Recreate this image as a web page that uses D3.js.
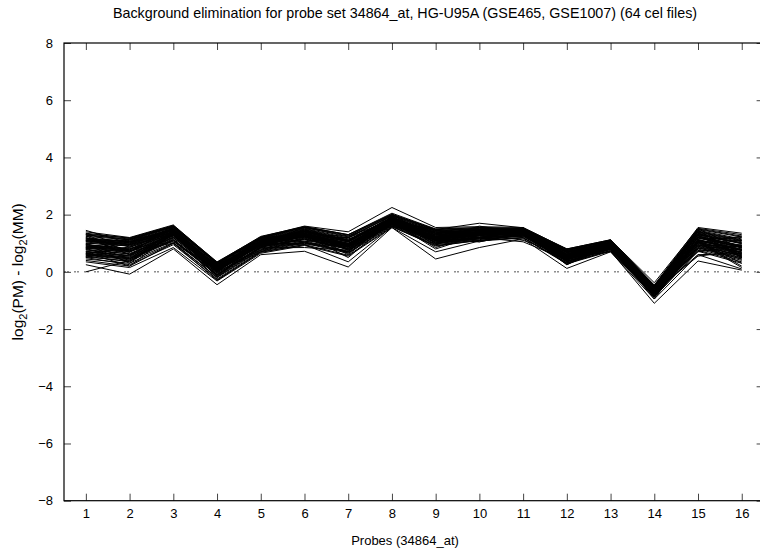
<!DOCTYPE html>
<html>
<head>
<meta charset="utf-8">
<script src="https://cdn.jsdelivr.net/npm/d3@7"></script>
<style>
  body { margin: 0; background: #fff; }
  svg text { font-family: "Liberation Sans", Arial, Helvetica, sans-serif; font-size: 13px; fill: #000; }
</style>
</head>
<body>
<script>
// probe indices and axis ticks
var probes = [1, 2, 3, 4, 5, 6, 7, 8, 9, 10, 11, 12, 13, 14, 15, 16];
var yTicks = [-8, -6, -4, -2, 0, 2, 4, 6, 8];
var chartTitle = "Background elimination for probe set 34864_at, HG-U95A (GSE465, GSE1007) (64 cel files)";
var xTitle = "Probes (34864_at)";

// log2(PM) - log2(MM) for each cel file, one row per file
var celFiles = [
  [0.95,0.80,1.35,0.10,0.75,1.30,0.95,1.78,1.45,1.32,1.38,0.55,1.10,-0.68,1.10,0.75],
  [1.10,0.95,1.45,0.20,1.05,1.40,1.05,1.85,1.30,1.40,1.42,0.62,0.98,-0.90,1.25,0.90],
  [0.70,0.55,1.20,-0.05,0.88,1.15,0.80,1.70,1.35,1.10,1.30,0.45,0.85,-0.75,0.95,0.55],
  [1.25,0.70,1.55,0.28,1.15,1.05,1.20,1.95,1.40,1.20,1.48,0.72,1.05,-0.52,1.40,1.10],
  [0.55,0.35,1.45,-0.15,0.80,1.05,0.70,1.95,1.00,1.18,1.45,0.38,0.80,-0.82,0.85,0.45],
  [1.45,1.00,1.50,0.15,1.00,1.35,1.00,1.80,1.25,1.35,1.40,0.58,0.95,-0.65,1.20,0.85],
  [0.00,0.40,1.30,0.05,0.95,1.28,0.90,1.75,1.15,1.30,1.35,0.50,0.90,-0.70,1.05,0.70],
  [0.25,-0.08,0.80,-0.45,0.60,0.72,0.17,1.55,0.45,0.85,1.15,0.12,0.70,-0.95,0.60,0.10],
  [0.65,0.85,1.40,0.12,1.00,1.32,0.98,1.80,1.22,1.35,1.38,0.35,0.93,-0.66,1.15,1.20],
  [0.85,0.70,1.28,0.25,0.92,1.22,1.20,1.72,1.12,1.28,1.33,0.48,0.88,-0.72,1.45,0.62],
  [0.55,1.15,1.58,0.30,1.18,1.55,1.25,2.00,1.45,1.52,1.50,0.75,1.08,-0.50,1.45,1.15],
  [0.60,0.45,1.10,-0.10,0.85,1.40,0.75,1.65,1.05,1.20,1.28,0.42,0.82,-0.78,0.90,0.50],
  [1.00,0.45,1.42,0.15,1.02,1.35,1.00,1.82,0.95,1.38,1.40,0.60,0.95,-0.85,1.20,0.85],
  [0.90,0.75,1.32,0.08,0.96,1.55,0.92,1.76,1.18,1.05,1.36,0.52,0.90,-0.70,1.08,0.30],
  [1.15,1.05,1.50,-0.15,1.10,1.45,1.10,1.90,1.35,1.45,1.45,0.68,1.02,-0.56,1.30,1.00],
  [1.20,0.60,1.25,-0.02,1.15,1.20,0.85,1.70,1.10,1.25,1.32,0.70,0.86,-0.74,0.98,0.60],
  [0.50,0.25,0.95,-0.25,0.72,1.00,0.65,1.60,0.95,1.12,1.50,0.35,0.78,-0.85,0.80,0.40],
  [1.30,1.12,1.60,0.32,1.20,1.58,1.30,2.05,1.50,1.55,1.52,0.78,1.10,-0.48,1.50,1.25],
  [0.95,0.82,1.05,0.10,0.98,1.30,0.96,1.60,1.20,1.34,1.38,0.55,0.92,-0.68,0.75,0.78],
  [0.80,1.05,1.30,0.00,0.93,1.24,0.90,1.74,1.15,1.28,1.55,0.50,0.70,-0.72,1.02,0.65],
  [1.10,1.00,1.48,-0.20,1.06,1.42,1.08,1.88,1.00,1.42,1.44,0.64,1.00,-0.58,1.28,0.50],
  [0.65,0.50,1.15,-0.08,0.86,1.12,0.78,1.68,1.08,1.22,1.30,0.44,0.84,-0.76,1.35,0.52],
  [1.20,0.60,1.35,0.10,0.95,1.30,0.95,1.78,1.20,1.33,1.37,0.54,0.91,-0.68,1.10,0.76],
  [0.45,0.30,1.00,-0.20,0.75,1.02,0.68,1.62,0.98,1.15,1.24,0.36,0.79,-0.84,0.82,0.90],
  [1.35,1.18,1.62,0.35,1.22,1.60,1.40,2.25,1.55,1.58,1.55,0.80,1.12,-0.38,1.52,1.30],
  [0.88,0.72,1.30,0.05,0.94,0.95,0.90,1.75,1.15,1.55,1.35,0.52,0.90,-0.50,1.05,0.68],
  [0.55,0.88,1.40,0.12,1.00,1.33,0.65,1.80,1.22,1.36,1.39,0.57,0.93,-0.66,1.50,0.82],
  [0.78,0.62,1.26,0.00,1.20,1.22,0.86,1.72,1.12,1.27,1.33,0.48,0.87,-0.73,1.00,0.62],
  [1.18,1.08,1.52,0.24,1.12,1.48,1.12,1.92,1.38,1.46,1.46,0.70,1.04,-0.55,1.35,1.05],
  [0.58,0.42,1.08,-0.12,0.83,1.08,0.72,1.64,1.02,1.18,1.26,0.40,1.05,-0.80,0.88,0.48],
  [0.98,0.30,1.38,0.10,1.20,1.31,0.96,1.79,1.21,1.34,1.38,0.80,0.92,-0.67,1.12,0.78],
  [0.82,0.68,1.55,0.03,0.93,1.24,0.89,1.74,1.45,1.29,1.34,0.50,0.89,-0.71,1.03,1.10],
  [1.08,0.98,1.46,0.18,1.05,1.40,1.06,1.86,1.30,1.42,1.43,0.25,0.99,-0.59,1.25,0.92],
  [0.68,0.20,1.00,-0.30,0.70,0.95,0.35,1.58,0.90,1.10,1.20,0.32,0.75,-0.88,0.75,0.35],
  [0.85,1.10,1.55,0.26,1.14,1.50,1.15,1.65,1.40,1.48,1.47,0.72,0.80,-0.53,1.38,1.08],
  [0.92,0.78,1.34,0.08,0.97,1.28,0.93,1.77,0.85,1.32,1.37,0.54,0.91,-0.69,1.09,0.74],
  [0.72,0.58,1.22,0.28,0.89,1.18,0.82,1.70,1.10,1.50,1.31,0.46,0.86,-0.74,1.30,0.58],
  [1.12,1.02,1.48,0.20,1.08,1.43,1.08,1.88,1.33,1.44,1.44,0.66,1.01,-0.57,1.30,0.98],
  [0.62,0.48,1.12,-0.10,0.84,1.50,0.76,1.66,1.05,1.20,1.05,0.42,0.83,-0.78,0.90,0.95],
  [1.28,1.15,1.58,0.30,1.18,1.55,1.22,1.98,1.45,1.50,1.50,0.75,1.08,-0.50,1.45,0.55],
  [0.96,1.15,1.36,0.10,0.98,1.30,1.25,1.78,1.20,1.33,1.38,0.55,0.92,-0.95,1.11,0.77],
  [1.30,0.70,1.30,0.04,0.94,1.25,0.90,1.74,0.80,1.29,1.35,0.25,0.89,-0.71,1.04,0.67],
  [1.06,0.95,1.44,0.16,1.04,1.38,1.04,1.84,1.28,1.40,1.42,0.62,0.98,-0.60,1.22,0.90],
  [0.52,0.38,1.02,-0.18,0.78,1.04,0.70,1.90,1.00,1.16,1.25,0.38,0.80,-0.83,0.84,0.44],
  [1.40,1.20,1.64,0.33,1.24,1.58,1.30,2.02,1.48,1.70,1.54,0.80,1.12,-0.46,1.55,1.35],
  [0.86,0.74,1.00,0.06,0.95,1.26,0.91,2.00,1.16,1.31,1.36,0.52,0.90,-0.70,1.06,0.20],
  [1.00,0.90,1.40,0.14,1.01,1.34,0.99,1.81,1.24,1.37,1.40,0.30,0.94,-0.64,1.18,0.84],
  [0.76,0.64,1.28,0.01,0.70,1.22,0.87,1.72,1.13,1.05,1.33,0.49,0.88,-0.72,0.60,0.64],
  [1.16,1.06,1.50,0.22,1.10,1.46,1.10,1.90,1.36,1.46,1.46,0.69,1.03,-0.56,1.33,1.02],
  [0.40,0.20,1.35,-0.28,0.68,0.95,0.58,1.58,0.92,1.10,1.20,0.30,0.74,-0.88,0.72,0.30],
  [0.50,0.80,1.36,0.10,0.98,1.00,0.94,1.78,1.20,1.33,1.37,0.55,1.12,-0.68,1.10,0.76],
  [0.80,0.95,1.28,0.02,0.92,1.23,0.88,1.73,1.50,1.28,1.34,0.50,0.88,-0.72,1.02,1.25],
  [1.04,0.92,1.42,0.15,1.03,1.36,0.60,1.83,1.26,1.38,1.41,0.60,0.96,-0.62,1.20,0.88],
  [0.64,0.52,1.18,0.20,0.87,1.14,0.80,1.95,1.08,1.22,1.30,0.72,0.84,-0.76,0.93,0.54],
  [1.24,1.12,1.56,0.28,1.16,1.52,1.18,1.96,1.42,1.49,1.48,0.74,1.07,-0.52,1.42,1.12],
  [0.90,0.76,1.60,0.08,0.96,1.28,0.50,1.77,1.17,1.32,1.36,0.53,0.91,-0.69,0.55,0.73],
  [0.70,0.56,1.20,-0.04,0.88,1.16,0.82,1.69,1.09,1.55,1.31,0.45,0.85,-0.75,0.95,0.56],
  [1.14,1.04,1.49,0.21,1.09,1.44,1.09,1.89,1.34,1.45,1.45,0.67,1.02,-0.57,1.31,1.00],
  [0.35,0.15,0.85,-0.32,0.65,0.92,0.55,1.55,0.70,1.08,1.18,0.28,0.72,-1.10,0.38,0.06],
  [1.35,0.86,1.38,0.12,0.99,1.32,0.97,1.79,1.22,1.35,1.10,0.57,0.93,-0.88,1.13,0.80],
  [0.82,0.35,1.30,0.04,0.93,1.25,0.89,1.74,1.15,1.60,1.35,0.51,0.89,-0.71,1.04,0.15],
  [1.08,0.96,1.45,0.17,1.05,1.39,1.05,1.85,1.29,1.41,1.43,0.62,0.98,-0.60,0.70,0.91],
  [0.60,0.46,1.12,-0.10,0.84,0.85,0.76,1.66,1.40,1.20,1.28,0.42,0.83,-0.78,1.40,0.50],
  [1.32,1.18,1.60,0.32,1.20,1.56,1.28,2.00,1.48,1.54,1.52,0.78,1.10,-0.48,1.48,1.22]
];

// frame of the plot
var widthSvg = 760;
var heightSvg = 549;
var plotLeft = 64;
var plotRight = 763.6;
var plotTop = 43;
var plotBottom = 500.7;
var tickLen = 7;

var svg = d3.select("body")
            .append("svg")
            .attr("width", widthSvg)
            .attr("height", heightSvg);

var scaleX = d3.scaleLinear()
               .domain([0.5, 16.5])
               .range([plotLeft, plotRight]);
var scaleY = d3.scaleLinear()
               .domain([-8, 8])
               .range([plotBottom, plotTop]);

// dotted zero line
svg.append("line")
   .attr("x1", plotLeft)
   .attr("x2", plotRight)
   .attr("y1", scaleY(0))
   .attr("y2", scaleY(0))
   .attr("stroke", "#555")
   .attr("stroke-width", 1)
   .attr("stroke-dasharray", "2,1,2,5");

// one line per cel file
var line = d3.line()
             .x(function(d, i) { return scaleX(probes[i]); })
             .y(function(d) { return scaleY(d); });

svg.append("g")
   .selectAll("path")
   .data(celFiles)
   .enter()
   .append("path")
   .attr("d", line)
   .attr("fill", "none")
   .attr("stroke", "#000")
   .attr("stroke-width", 1);

// axes with inward ticks on all four sides
function styleAxis(g) {
  g.select(".domain").remove();
  g.selectAll(".tick line").attr("stroke", "#444");
  g.selectAll("text").attr("font-family", null).attr("font-size", null);
}

svg.append("g")
   .attr("transform", "translate(" + plotLeft + ",0)")
   .call(d3.axisLeft(scaleY).tickValues(yTicks).tickSize(-tickLen).tickSizeOuter(0).tickPadding(11))
   .call(styleAxis);

svg.append("g")
   .attr("transform", "translate(" + plotRight + ",0)")
   .call(d3.axisRight(scaleY).tickValues(yTicks).tickSize(-tickLen).tickSizeOuter(0).tickFormat(""))
   .call(styleAxis);

svg.append("g")
   .attr("transform", "translate(0," + plotBottom + ")")
   .call(d3.axisBottom(scaleX).tickValues(probes).tickFormat(d3.format("d")).tickSize(-tickLen).tickSizeOuter(0).tickPadding(8))
   .call(styleAxis);

svg.append("g")
   .attr("transform", "translate(0," + plotTop + ")")
   .call(d3.axisTop(scaleX).tickValues(probes).tickSize(-tickLen).tickSizeOuter(0).tickFormat(""))
   .call(styleAxis);

// border
svg.append("rect")
   .attr("x", plotLeft)
   .attr("y", plotTop)
   .attr("width", plotRight - plotLeft)
   .attr("height", plotBottom - plotTop)
   .attr("fill", "none")
   .attr("stroke", "#000")
   .attr("stroke-width", 1.2);

// titles
svg.append("text")
   .attr("x", 405)
   .attr("y", 18)
   .attr("text-anchor", "middle")
   .style("font-size", "14.3px")
   .text(chartTitle);

svg.append("text")
   .attr("x", 405)
   .attr("y", 545)
   .attr("text-anchor", "middle")
   .text(xTitle);

var yTitle = svg.append("text")
   .attr("transform", "translate(23," + scaleY(0) + ") rotate(-90)")
   .attr("text-anchor", "middle")
   .style("font-size", "15.5px");
yTitle.append("tspan").text("log");
yTitle.append("tspan").attr("font-size", "11px").attr("dy", 4).text("2");
yTitle.append("tspan").attr("dy", -4).text("(PM) - log");
yTitle.append("tspan").attr("font-size", "11px").attr("dy", 4).text("2");
yTitle.append("tspan").attr("dy", -4).text("(MM)");
</script>
</body>
</html>
